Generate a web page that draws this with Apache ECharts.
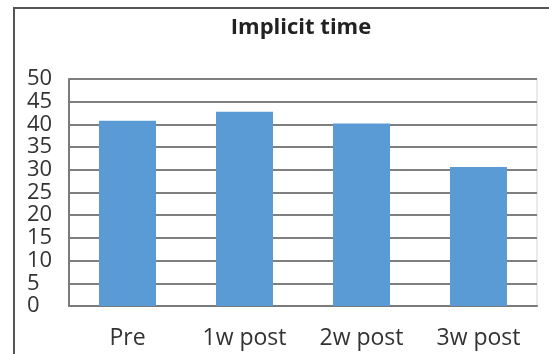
<!DOCTYPE html>
<html>
<head>
<meta charset="utf-8">
<script src="https://cdn.jsdelivr.net/npm/echarts@6/dist/echarts.min.js"></script>
<style>
html,body{margin:0;padding:0;background:#fff;overflow:hidden;}
#frame{position:absolute;left:13px;top:7px;width:560px;height:380px;border:2px solid #555;box-sizing:border-box;}
#chart{position:absolute;left:0;top:0;width:549px;height:354px;}
</style>
</head>
<body>
<div id="frame"></div>
<div id="chart"></div>
<script>
const categories = ['Pre', '1w post', '2w post', '3w post'];
const values = [40.8, 42.8, 40.2, 30.6];
const titleText = 'Implicit time';

const chart = echarts.init(document.getElementById('chart'));
chart.setOption({
  animation: false,
  backgroundColor: 'transparent',
  title: {
    text: titleText,
    left: 296, top: 12, textAlign: 'center',
    textStyle: {fontFamily: 'Open Sans', fontWeight: 'bold', fontSize: 22, color: '#222'}
  },
  grid: {left: 69, right: 12, top: 79, bottom: 48, show: true, borderColor: '#d6d6d6', borderWidth: 1},
  xAxis: {
    type: 'category', data: categories,
    axisLine: {lineStyle: {color: '#7a7a7a', width: 2}},
    axisTick: {show: false},
    axisLabel: {fontFamily: 'Open Sans', fontSize: 23, color: '#333', margin: 21}
  },
  yAxis: {
    type: 'value', min: 0, max: 50, interval: 5,
    axisLine: {show: true, lineStyle: {color: '#7a7a7a', width: 2}},
    axisTick: {show: false},
    splitLine: {lineStyle: {color: '#7f7f7f', width: 2}},
    axisLabel: {fontFamily: 'Open Sans', fontSize: 22, color: '#333', align: 'left', margin: 42,
      lineHeight: 20, showMinLabel: true, showMaxLabel: true, hideOverlap: false}
  },
  series: [{
    type: 'bar', data: values, barWidth: 57,
    itemStyle: {color: '#5b9bd5'}
  }]
});
</script>
</body>
</html>
